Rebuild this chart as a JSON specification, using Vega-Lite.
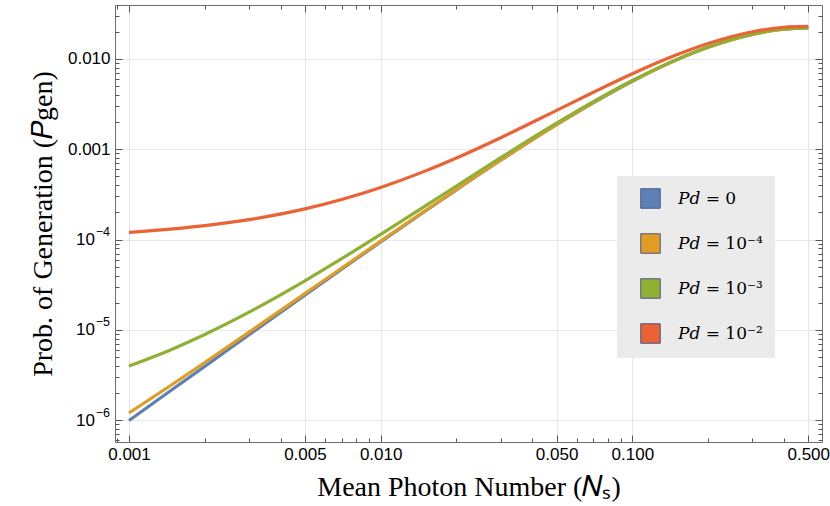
{
  "$schema": "https://vega.github.io/schema/vega-lite/v6.json",
  "width": 707,
  "height": 437,
  "autosize": {"type": "none"},
  "padding": {"left": 115, "top": 5, "right": 8, "bottom": 64},
  "data": {
    "values": [
      {"N": 0.001, "P": 9.94e-7, "s": "0"},
      {"N": 0.0015, "P": 2.23e-6, "s": "0"},
      {"N": 0.002, "P": 3.952e-6, "s": "0"},
      {"N": 0.003, "P": 8.84e-6, "s": "0"},
      {"N": 0.005, "P": 2.426e-5, "s": "0"},
      {"N": 0.007, "P": 4.699e-5, "s": "0"},
      {"N": 0.01, "P": 9.421e-5, "s": "0"},
      {"N": 0.015, "P": 2.058e-4, "s": "0"},
      {"N": 0.02, "P": 3.552e-4, "s": "0"},
      {"N": 0.03, "P": 7.537e-4, "s": "0"},
      {"N": 0.05, "P": 1.866e-3, "s": "0"},
      {"N": 0.07, "P": 3.265e-3, "s": "0"},
      {"N": 0.1, "P": 5.645e-3, "s": "0"},
      {"N": 0.15, "P": 9.727e-3, "s": "0"},
      {"N": 0.2, "P": 1.34e-2, "s": "0"},
      {"N": 0.3, "P": 1.865e-2, "s": "0"},
      {"N": 0.4, "P": 2.125e-2, "s": "0"},
      {"N": 0.5, "P": 2.195e-2, "s": "0"},
      {"N": 0.001, "P": 1.203e-6, "s": "1e-4"},
      {"N": 0.0015, "P": 2.537e-6, "s": "1e-4"},
      {"N": 0.002, "P": 4.357e-6, "s": "1e-4"},
      {"N": 0.003, "P": 9.439e-6, "s": "1e-4"},
      {"N": 0.005, "P": 2.524e-5, "s": "1e-4"},
      {"N": 0.007, "P": 4.834e-5, "s": "1e-4"},
      {"N": 0.01, "P": 9.61e-5, "s": "1e-4"},
      {"N": 0.015, "P": 2.085e-4, "s": "1e-4"},
      {"N": 0.02, "P": 3.588e-4, "s": "1e-4"},
      {"N": 0.03, "P": 7.588e-4, "s": "1e-4"},
      {"N": 0.05, "P": 1.873e-3, "s": "1e-4"},
      {"N": 0.07, "P": 3.274e-3, "s": "1e-4"},
      {"N": 0.1, "P": 5.656e-3, "s": "1e-4"},
      {"N": 0.15, "P": 9.74e-3, "s": "1e-4"},
      {"N": 0.2, "P": 1.341e-2, "s": "1e-4"},
      {"N": 0.3, "P": 1.866e-2, "s": "1e-4"},
      {"N": 0.4, "P": 2.126e-2, "s": "1e-4"},
      {"N": 0.5, "P": 2.196e-2, "s": "1e-4"},
      {"N": 0.001, "P": 3.976e-6, "s": "1e-3"},
      {"N": 0.0015, "P": 6.194e-6, "s": "1e-3"},
      {"N": 0.002, "P": 8.893e-6, "s": "1e-3"},
      {"N": 0.003, "P": 1.5715e-5, "s": "1e-3"},
      {"N": 0.005, "P": 3.494e-5, "s": "1e-3"},
      {"N": 0.007, "P": 6.138e-5, "s": "1e-3"},
      {"N": 0.01, "P": 1.1399e-4, "s": "1e-3"},
      {"N": 0.015, "P": 2.341e-4, "s": "1e-3"},
      {"N": 0.02, "P": 3.916e-4, "s": "1e-3"},
      {"N": 0.03, "P": 8.048e-4, "s": "1e-3"},
      {"N": 0.05, "P": 1.941e-3, "s": "1e-3"},
      {"N": 0.07, "P": 3.359e-3, "s": "1e-3"},
      {"N": 0.1, "P": 5.758e-3, "s": "1e-3"},
      {"N": 0.15, "P": 9.858e-3, "s": "1e-3"},
      {"N": 0.2, "P": 1.353e-2, "s": "1e-3"},
      {"N": 0.3, "P": 1.877e-2, "s": "1e-3"},
      {"N": 0.4, "P": 2.136e-2, "s": "1e-3"},
      {"N": 0.5, "P": 2.204e-2, "s": "1e-3"},
      {"N": 0.001, "P": 1.2028e-4, "s": "1e-2"},
      {"N": 0.0015, "P": 1.3107e-4, "s": "1e-2"},
      {"N": 0.002, "P": 1.4228e-4, "s": "1e-2"},
      {"N": 0.003, "P": 1.6599e-4, "s": "1e-2"},
      {"N": 0.005, "P": 2.1837e-4, "s": "1e-2"},
      {"N": 0.007, "P": 2.7715e-4, "s": "1e-2"},
      {"N": 0.01, "P": 3.7682e-4, "s": "1e-2"},
      {"N": 0.015, "P": 5.7159e-4, "s": "1e-2"},
      {"N": 0.02, "P": 7.9917e-4, "s": "1e-2"},
      {"N": 0.03, "P": 1.34e-3, "s": "1e-2"},
      {"N": 0.05, "P": 2.6864e-3, "s": "1e-2"},
      {"N": 0.07, "P": 4.2646e-3, "s": "1e-2"},
      {"N": 0.1, "P": 6.83e-3, "s": "1e-2"},
      {"N": 0.15, "P": 1.10675e-2, "s": "1e-2"},
      {"N": 0.2, "P": 1.4769e-2, "s": "1e-2"},
      {"N": 0.3, "P": 1.991e-2, "s": "1e-2"},
      {"N": 0.4, "P": 2.2325e-2, "s": "1e-2"},
      {"N": 0.5, "P": 2.2835e-2, "s": "1e-2"}
    ]
  },
  "layer": [
    {
      "mark": {"type": "line", "strokeWidth": 3.2, "interpolate": "monotone"},
      "encoding": {
        "x": {
          "field": "N",
          "type": "quantitative",
          "scale": {"type": "log", "domain": [0.00088, 0.567], "nice": false},
          "axis": {
            "orient": "bottom",
            "title": "Mean Photon Number (𝑁ₛ)",
            "values": [0.0009, 0.001, 0.002, 0.003, 0.004, 0.005, 0.006, 0.007, 0.008, 0.009, 0.01, 0.02, 0.03, 0.04, 0.05, 0.06, 0.07, 0.08, 0.09, 0.1, 0.2, 0.3, 0.4, 0.5],
            "labelExpr": "indexof([0.001, 0.005, 0.01, 0.05, 0.1, 0.5], datum.value) >= 0 ? format(datum.value, '.3f') : ''",
            "tickSize": {"condition": {"test": "indexof([0.001, 0.005, 0.01, 0.05, 0.1, 0.5], datum.value) >= 0", "value": -7}, "value": -4},
            "gridOpacity": {"condition": {"test": "indexof([0.001, 0.005, 0.01, 0.05, 0.1, 0.5], datum.value) >= 0", "value": 1}, "value": 0},
            "labelPadding": 11,
            "titleBaseline": "alphabetic",
            "titleY": 53
          }
        },
        "y": {
          "field": "P",
          "type": "quantitative",
          "scale": {"type": "log", "domain": [5.75e-7, 0.0394], "nice": false},
          "axis": {
            "orient": "left",
            "title": "Prob. of Generation (𝑃gen)",
            "values": [6e-7, 7e-7, 8e-7, 9e-7, 1e-6, 2e-6, 3e-6, 4e-6, 5e-6, 6e-6, 7e-6, 8e-6, 9e-6, 1e-5, 2e-5, 3e-5, 4e-5, 5e-5, 6e-5, 7e-5, 8e-5, 9e-5, 1e-4, 2e-4, 3e-4, 4e-4, 5e-4, 6e-4, 7e-4, 8e-4, 9e-4, 0.001, 0.002, 0.003, 0.004, 0.005, 0.006, 0.007, 0.008, 0.009, 0.01, 0.02, 0.03],
            "labelExpr": "datum.value == 0.01 ? '0.010' : datum.value == 0.001 ? '0.001' : indexof([0.0001, 0.00001, 0.000001], datum.value) >= 0 ? '10' : ''",
            "labelPadding": {"condition": {"test": "datum.value < 0.0005", "value": 27.5}, "value": 12},
            "tickSize": {"condition": {"test": "indexof([0.000001, 0.00001, 0.0001, 0.001, 0.01], datum.value) >= 0", "value": -7}, "value": -4},
            "gridOpacity": {"condition": {"test": "indexof([0.000001, 0.00001, 0.0001, 0.001, 0.01], datum.value) >= 0", "value": 1}, "value": 0},
            "titleBaseline": "alphabetic",
            "titleX": -64
          }
        },
        "color": {
          "field": "s",
          "type": "nominal",
          "scale": {"domain": ["0", "1e-4", "1e-3", "1e-2"], "range": ["#5E81B5", "#E19C24", "#8FB032", "#EB6235"]},
          "legend": null
        }
      }
    },
    {
      "mark": {"type": "point", "shape": "square", "filled": true, "opacity": 0},
      "encoding": {
        "x": {
          "field": "N",
          "type": "quantitative",
          "axis": {
            "orient": "top",
            "title": null,
            "labels": false,
            "grid": false,
            "values": [0.0009, 0.001, 0.002, 0.003, 0.004, 0.005, 0.006, 0.007, 0.008, 0.009, 0.01, 0.02, 0.03, 0.04, 0.05, 0.06, 0.07, 0.08, 0.09, 0.1, 0.2, 0.3, 0.4, 0.5],
            "tickSize": {"condition": {"test": "indexof([0.001, 0.005, 0.01, 0.05, 0.1, 0.5], datum.value) >= 0", "value": -7}, "value": -4}
          }
        },
        "y": {
          "field": "P",
          "type": "quantitative",
          "axis": {
            "orient": "right",
            "title": null,
            "labels": false,
            "grid": false,
            "values": [6e-7, 7e-7, 8e-7, 9e-7, 1e-6, 2e-6, 3e-6, 4e-6, 5e-6, 6e-6, 7e-6, 8e-6, 9e-6, 1e-5, 2e-5, 3e-5, 4e-5, 5e-5, 6e-5, 7e-5, 8e-5, 9e-5, 1e-4, 2e-4, 3e-4, 4e-4, 5e-4, 6e-4, 7e-4, 8e-4, 9e-4, 0.001, 0.002, 0.003, 0.004, 0.005, 0.006, 0.007, 0.008, 0.009, 0.01, 0.02, 0.03],
            "tickSize": {"condition": {"test": "indexof([0.000001, 0.00001, 0.0001, 0.001, 0.01], datum.value) >= 0", "value": -7}, "value": -4}
          }
        },
        "color": {
          "field": "s",
          "type": "nominal",
          "legend": {
            "title": null,
            "orient": "none",
            "legendX": 502,
            "legendY": 171,
            "fillColor": "#EBEBEB",
            "padding": 12,
            "symbolType": "square",
            "symbolSize": 380,
            "symbolOffset": 11,
            "symbolOpacity": 1,
            "symbolStrokeColor": "#44598A",
            "symbolStrokeWidth": 1,
            "rowPadding": 20,
            "labelOffset": 17,
            "labelFont": "DejaVu Serif",
            "labelFontSize": 17,
            "labelColor": "#000",
            "labelExpr": "datum.value == '0' ? '𝑃𝑑 = 0' : datum.value == '1e-4' ? '𝑃𝑑 = 10⁻⁴' : datum.value == '1e-3' ? '𝑃𝑑 = 10⁻³' : '𝑃𝑑 = 10⁻²'",
            "encode": {
              "symbols": {
                "update": {
                  "opacity": {"value": 1},
                  "stroke": {"value": "#44598A"},
                  "strokeWidth": {"value": 1}
                }
              }
            }
          }
        }
      }
    },
    {
      "mark": {"type": "point", "opacity": 0},
      "encoding": {
        "y": {
          "field": "P",
          "type": "quantitative",
          "axis": {
            "orient": "left",
            "title": null,
            "ticks": false,
            "grid": false,
            "values": [0.000001, 0.00001, 0.0001],
            "labelExpr": "datum.value == 0.0001 ? '−4' : datum.value == 0.00001 ? '−5' : '−6'",
            "labelFontSize": 12.5,
            "labelPadding": 5.5,
            "labelOffset": -8
          }
        }
      }
    }
  ],
  "resolve": {"axis": {"x": "independent", "y": "independent"}, "legend": {"color": "independent"}},
  "config": {
    "view": {"stroke": "#6E6E6E", "strokeWidth": 1},
    "axis": {
      "domain": false,
      "tickColor": "#555555",
      "tickWidth": 1,
      "gridColor": "#E6E6E6",
      "gridWidth": 1,
      "labelFont": "Liberation Sans",
      "labelFontSize": 17,
      "labelColor": "#000000",
      "titleFont": "Liberation Serif",
      "titleFontSize": 28,
      "titleFontWeight": "normal",
      "titleColor": "#000000"
    }
  }
}
